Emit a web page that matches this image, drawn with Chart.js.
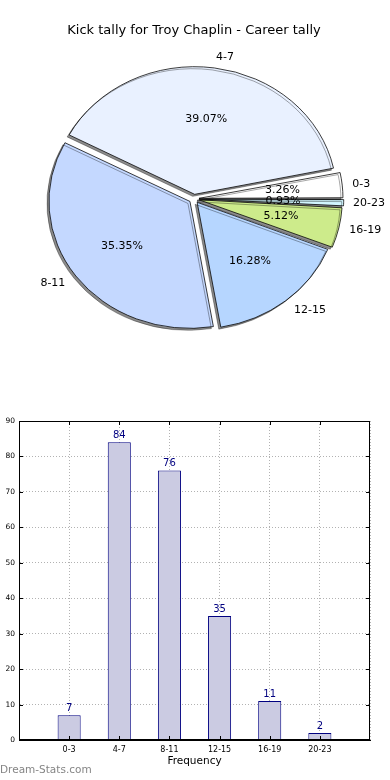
<!DOCTYPE html>
<html>
<head>
<meta charset="utf-8">
<script src="https://cdn.jsdelivr.net/npm/chart.js@4"></script>
<style>
  body { margin: 0; background: #fff; }
  #wrap { position: relative; width: 390px; height: 780px; }
  #pie { position: absolute; left: 0; top: 0; }
  #bars { position: absolute; left: 0; top: 400px; }
  #mark { position: absolute; left: 0; top: 763px; font: 10.5px "DejaVu Sans"; color: #858585; }
</style>
</head>
<body>
<div id="wrap">
  <canvas id="pie" width="390" height="400"></canvas>
  <canvas id="bars" width="390" height="375"></canvas>
  <div id="mark">Dream-Stats.com</div>
</div>
<script>
// kick ranges and how many times each came up
const categories = ["0-3", "4-7", "8-11", "12-15", "16-19", "20-23"];
const kicks = [7, 84, 76, 35, 11, 2];
const sliceColors = ["#ffffff", "#e9f1ff", "#c4d8ff", "#b6d6ff", "#cdeb8b", "#d2f6ff"];
const yTicks = { min: 0, max: 90, step: 10 };
const chartTitle = "Kick tally for Troy Chaplin - Career tally";
const axisTitle = "Frequency";

const FONT = "DejaVu Sans";
const SY = 0.9; // pie is squashed vertically in the original
const total = kicks.reduce((a, b) => a + b, 0);

// pie goes counter-clockwise from 3 o'clock, chart.js goes clockwise -> reverse
const pieLabels = categories.slice().reverse();
const pieData = kicks.slice().reverse();
const pieColors = sliceColors.slice().reverse();

const squash = {
  id: "squash",
  beforeDatasetsDraw(chart) {
    const el = chart.getDatasetMeta(0).data[0];
    const ctx = chart.ctx;
    ctx.save();
    ctx.translate(el.x, el.y);
    ctx.scale(1, SY);
    ctx.translate(-el.x, -el.y);
    ctx.shadowColor = "rgba(0,0,0,0.45)";
    ctx.shadowOffsetX = -2;
    ctx.shadowOffsetY = 2;
    ctx.shadowBlur = 0;
  },
  afterDatasetsDraw(chart) {
    const ctx = chart.ctx;
    ctx.restore();
    const meta = chart.getDatasetMeta(0);
    ctx.save();
    ctx.fillStyle = "#000";
    ctx.font = "11px " + FONT;
    ctx.textBaseline = "middle";
    meta.data.forEach((el, i) => {
      const a = (el.startAngle + el.endAngle) / 2;
      const r = el.outerRadius;
      const off = 5;
      // percentage inside
      let d = 0.6 * r + off;
      ctx.textAlign = "center";
      const pct = (pieData[i] / total * 100).toFixed(2) + "%";
      ctx.fillText(pct, el.x + Math.cos(a) * d, el.y + Math.sin(a) * d * SY);
      // category name outside
      d = 1.1 * r + off;
      ctx.textAlign = Math.cos(a) >= 0 ? "left" : "right";
      ctx.fillText(pieLabels[i], el.x + Math.cos(a) * d, el.y + Math.sin(a) * d * SY);
    });
    ctx.restore();
  }
};

new Chart(document.getElementById("pie"), {
  type: "pie",
  data: {
    labels: pieLabels,
    datasets: [{
      data: pieData,
      backgroundColor: pieColors,
      borderColor: "#000",
      borderWidth: 0.8,
      offset: 20
    }]
  },
  options: {
    responsive: false,
    animation: false,
    rotation: 90,
    radius: 140,
    layout: { padding: { left: 0, right: 2, top: 0, bottom: 50 } },
    plugins: {
      legend: { display: false },
      tooltip: { enabled: false },
      title: {
        display: true,
        text: chartTitle,
        color: "#000",
        font: { family: FONT, size: 13, weight: "normal" },
        padding: { top: 23, bottom: 9 }
      }
    }
  },
  plugins: [squash]
});

// bar chart: pad the category axis with an empty slot on each side
const barLabels = [""].concat(categories, [""]);
const barData = [null].concat(kicks, [null]);

const frame = {
  id: "frame",
  afterDatasetsDraw(chart) {
    const ctx = chart.ctx;
    const { left, right, top, bottom } = chart.chartArea;
    const meta = chart.getDatasetMeta(0);
    ctx.save();
    // value on top of each bar
    ctx.fillStyle = "#000080";
    ctx.font = "10px " + FONT;
    ctx.textAlign = "center";
    ctx.textBaseline = "middle";
    meta.data.forEach((el, i) => {
      if (barData[i] == null) return;
      ctx.fillText(String(barData[i]), el.x, el.y - 7);
    });
    // box round the plot, with small inner ticks
    ctx.strokeStyle = "#000";
    ctx.lineWidth = 1;
    ctx.strokeRect(left + 0.5, top + 0.5, right - left - 1, bottom - top - 1);
    ctx.beginPath();
    const ys = chart.scales.y;
    for (let v = yTicks.min; v <= yTicks.max; v += yTicks.step) {
      const p = Math.round(ys.getPixelForValue(v)) + 0.5;
      ctx.moveTo(left, p); ctx.lineTo(left + 4, p);
      ctx.moveTo(right - 4, p); ctx.lineTo(right, p);
    }
    const xs = chart.scales.x;
    for (let i = 1; i < barLabels.length - 1; i++) {
      const p = Math.round(xs.getPixelForValue(i)) + 0.5;
      ctx.moveTo(p, bottom); ctx.lineTo(p, bottom - 4);
      ctx.moveTo(p, top); ctx.lineTo(p, top + 4);
    }
    ctx.stroke();
    ctx.restore();
  }
};

new Chart(document.getElementById("bars"), {
  type: "bar",
  data: {
    labels: barLabels,
    datasets: [{
      data: barData,
      backgroundColor: "#cbcbe2",
      borderColor: "#000080",
      borderWidth: 1,
      barPercentage: 0.46,
      categoryPercentage: 1
    }]
  },
  options: {
    responsive: false,
    animation: false,
    layout: { padding: { left: 0, right: 20, top: 21, bottom: 0 } },
    plugins: {
      legend: { display: false },
      tooltip: { enabled: false }
    },
    scales: {
      x: {
        offset: false,
        afterFit(scale) { scale.height = 35; },
        grid: { offset: false, color: "rgba(0,0,0,0.3)", drawTicks: false },
        border: { color: "#000", dash: [1, 2] },
        ticks: { color: "#000", padding: 5, autoSkip: false, maxRotation: 0, font: { family: FONT, size: 8 } },
        title: {
          display: true,
          text: axisTitle,
          color: "#000",
          font: { family: FONT, size: 10.5 },
          padding: { top: 0, bottom: 7 }
        }
      },
      y: {
        min: yTicks.min,
        max: yTicks.max,
        afterFit(scale) { scale.width = 19; },
        grid: { color: "rgba(0,0,0,0.3)", drawTicks: false },
        border: { color: "#000", dash: [1, 2] },
        ticks: { stepSize: yTicks.step, color: "#000", padding: 4, font: { family: FONT, size: 7.5 } }
      }
    }
  },
  plugins: [frame]
});
</script>
</body>
</html>
